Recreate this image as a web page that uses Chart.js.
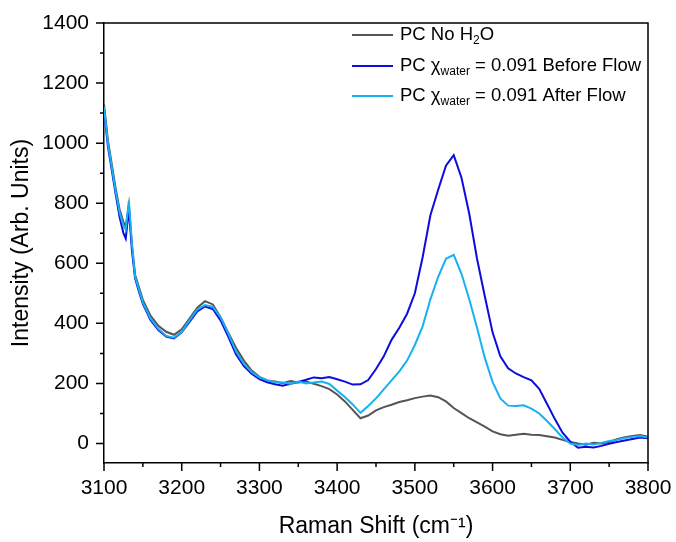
<!DOCTYPE html>
<html lang="en">
<head>
<meta charset="UTF-8">
<title>Raman Spectra</title>
<script src="https://cdn.jsdelivr.net/npm/chart.js"></script>
<style>
  body { margin: 0; background: #ffffff; }
  #wrap { position: relative; width: 676px; height: 542px; }
</style>
</head>
<body>
<div id="wrap"><canvas id="ramanChart" width="676" height="542"></canvas></div>
<script>
// Raman shift (cm-1) sample points
const ramanShift = [3100, 3105, 3110, 3115, 3120, 3125, 3128, 3132, 3136, 3140, 3145, 3150,
  3160, 3170, 3180, 3190, 3200, 3210, 3220, 3230, 3240, 3250, 3260, 3270, 3280, 3290,
  3300, 3310, 3320, 3330, 3340, 3350, 3360, 3370, 3380, 3390, 3400, 3410, 3420, 3430,
  3440, 3450, 3460, 3470, 3480, 3490, 3500, 3510, 3520, 3530, 3540, 3550, 3560, 3570,
  3580, 3590, 3600, 3610, 3620, 3630, 3640, 3650, 3660, 3670, 3680, 3690, 3700, 3710,
  3720, 3730, 3740, 3750, 3760, 3770, 3780, 3790, 3800];

// intensities (arb. units)
const pcNoWater = [1130, 1010, 930, 850, 780, 738, 722, 795, 660, 562, 520, 478,
  425, 392, 372, 362, 380, 416, 452, 474, 463, 420, 368, 318, 276, 243,
  222, 210, 206, 201, 208, 203, 206, 199, 191, 181, 163, 140, 112, 84,
  93, 110, 121, 129, 138, 144, 151, 156, 160, 154, 140, 118, 101, 84,
  70, 56, 40, 31, 26, 29, 32, 29, 28, 24, 20, 12, 5, 0,
  -4, 2, 0, 5, 14, 21, 25, 28, 22];

const pcBeforeFlow = [1110, 990, 910, 830, 755, 700, 682, 780, 640, 550, 505, 465,
  410, 378, 356, 350, 370, 405, 440, 456, 448, 410, 355, 296, 258, 232,
  214, 204, 197, 192, 199, 205, 212, 220, 217, 221, 214, 206, 196, 197,
  211, 248, 290, 345, 385, 432, 500, 620, 760, 845, 925, 960, 885, 765,
  615, 490, 370, 290, 250, 233, 221, 210, 182, 132, 82, 36, 6, -14,
  -11, -13, -8, -1, 5, 10, 15, 20, 17];

const pcAfterFlow = [1120, 1000, 920, 840, 770, 725, 712, 808, 662, 556, 512, 470,
  415, 382, 358, 352, 372, 410, 446, 461, 455, 420, 365, 306, 265, 238,
  220, 210, 205, 203, 199, 206, 200, 203, 206, 198, 176, 155, 130, 102,
  125, 150, 180, 210, 240, 276, 328, 390, 480, 555, 615, 628, 565, 480,
  385, 285, 205, 150, 126, 125, 127, 116, 100, 75, 48, 20, 0, -5,
  0, -3, 2, 8, 12, 18, 22, 25, 20];

const seriesNames = ['PC No H_{2}O', 'PC χ_{water} = 0.091 Before Flow', 'PC χ_{water} = 0.091 After Flow'];

// tick positions (labels only on the long ones)
const xTickValues = [3100, 3150, 3200, 3250, 3300, 3350, 3400, 3450, 3500, 3550, 3600, 3650, 3700, 3750, 3800];
const yTickValues = [0, 100, 200, 300, 400, 500, 600, 700, 800, 900, 1000, 1100, 1200, 1300, 1400];

const xTitle = 'Raman Shift (cm⁻¹)';
const yTitle = 'Intensity (Arb. Units)';

const FONT = "Arial, 'Liberation Sans', sans-serif";

function toPoints(values) {
  return ramanShift.map((x, i) => ({ x: x, y: values[i] }));
}

// legend drawn by hand so the subscripts come out right
const subLegend = {
  id: 'subLegend',
  afterDraw(chart) {
    const ctx = chart.ctx;
    const x0 = 352, x1 = 393, tx = 400;
    const rows = [35, 66, 96];
    ctx.save();
    chart.data.datasets.forEach((ds, i) => {
      const y = rows[i];
      ctx.strokeStyle = ds.borderColor;
      ctx.lineWidth = 2;
      ctx.beginPath();
      ctx.moveTo(x0, y);
      ctx.lineTo(x1, y);
      ctx.stroke();
      // split label on _{...}
      const parts = ds.label.split(/(_\{[^}]*\})/);
      let x = tx;
      ctx.fillStyle = '#000';
      ctx.textBaseline = 'middle';
      parts.forEach(p => {
        if (!p) return;
        if (p.startsWith('_{')) {
          const t = p.slice(2, -1);
          ctx.font = '12px ' + FONT;
          ctx.fillText(t, x, y + 6);
          x += ctx.measureText(t).width;
        } else {
          ctx.font = '18.5px ' + FONT;
          ctx.fillText(p, x, y);
          x += ctx.measureText(p).width;
        }
      });
    });
    ctx.restore();
  }
};

// box frame + long/short tick marks
const frameTicks = {
  id: 'frameTicks',
  afterDraw(chart) {
    const ctx = chart.ctx;
    const a = chart.chartArea;
    const xs = chart.scales.x, ys = chart.scales.y;
    ctx.save();
    ctx.strokeStyle = '#000';
    ctx.lineWidth = 1.5;
    ctx.beginPath();
    ctx.moveTo(a.left, a.top);
    ctx.lineTo(a.right, a.top);
    ctx.lineTo(a.right, a.bottom);
    ctx.stroke();
    ctx.beginPath();
    xs.ticks.forEach(t => {
      const px = xs.getPixelForValue(t.value);
      const len = t.value % 100 === 0 ? 8 : 4;
      ctx.moveTo(px, a.bottom);
      ctx.lineTo(px, a.bottom + len);
    });
    ys.ticks.forEach(t => {
      const py = ys.getPixelForValue(t.value);
      const len = t.value % 200 === 0 ? 8 : 4;
      ctx.moveTo(a.left, py);
      ctx.lineTo(a.left - len, py);
    });
    ctx.stroke();
    ctx.restore();
  }
};

const ctx = document.getElementById('ramanChart').getContext('2d');

new Chart(ctx, {
  type: 'line',
  data: {
    datasets: [
      { label: seriesNames[0], data: toPoints(pcNoWater), borderColor: '#555555', order: 2 },
      { label: seriesNames[1], data: toPoints(pcBeforeFlow), borderColor: '#0c0cdc', order: 1 },
      { label: seriesNames[2], data: toPoints(pcAfterFlow), borderColor: '#14b2f2', order: 0 }
    ]
  },
  options: {
    responsive: false,
    animation: false,
    layout: { padding: { left: 0, top: 23, right: 28, bottom: 0 } },
    elements: {
      line: { borderWidth: 2, tension: 0 },
      point: { radius: 0 }
    },
    plugins: {
      legend: { display: false },
      tooltip: { enabled: false }
    },
    scales: {
      x: {
        type: 'linear',
        min: 3100,
        max: 3800,
        afterBuildTicks: s => { s.ticks = xTickValues.map(v => ({ value: v })); },
        afterFit: s => { s.height = 79; s.paddingLeft = 0; s.paddingRight = 0; },
        border: { color: '#000', width: 1.5 },
        grid: { drawOnChartArea: false, drawTicks: false },
        ticks: {
          autoSkip: false,
          maxRotation: 0,
          padding: 13,
          color: '#000',
          font: { family: FONT, size: 21 },
          callback: v => (v % 100 === 0 ? String(v) : '')
        },
        title: {
          display: true,
          text: xTitle,
          color: '#000',
          font: { family: FONT, size: 23 },
          padding: { bottom: 2 }
        }
      },
      y: {
        min: -65,
        max: 1400,
        afterBuildTicks: s => { s.ticks = yTickValues.map(v => ({ value: v })); },
        afterFit: s => { s.width = 104; s.paddingTop = 0; s.paddingBottom = 0; },
        border: { color: '#000', width: 1.5 },
        grid: { drawOnChartArea: false, drawTicks: false },
        ticks: {
          autoSkip: false,
          padding: 15,
          color: '#000',
          font: { family: FONT, size: 21 },
          callback: v => (v % 200 === 0 ? String(v) : '')
        },
        title: {
          display: true,
          text: yTitle,
          color: '#000',
          font: { family: FONT, size: 23 },
          padding: { top: 8 }
        }
      }
    }
  },
  plugins: [subLegend, frameTicks]
});
</script>
</body>
</html>
